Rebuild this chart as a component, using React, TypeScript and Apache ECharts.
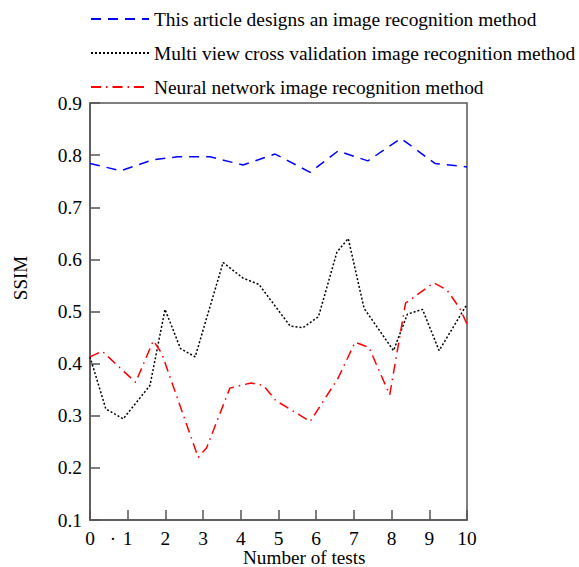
import React, { useEffect, useRef } from "react";
import * as echarts from "echarts";

const seriesNames = [
  "This article designs an image recognition method",
  "Multi view cross validation image recognition method",
  "Neural network image recognition method",
];

const xTicks = [0, 1, 2, 3, 4, 5, 6, 7, 8, 9, 10];
const yTicks = [0.1, 0.2, 0.3, 0.4, 0.5, 0.6, 0.7, 0.8, 0.9];

const blueX = [0, 0.82, 1.67, 2.33, 3.18, 4.06, 4.91, 5.84, 6.58, 7.37, 8.25, 9.15, 9.84, 10];
const blueY = [0.784, 0.77, 0.791, 0.797, 0.797, 0.781, 0.802, 0.767, 0.808, 0.789, 0.832, 0.784, 0.779, 0.777];

const blackX = [0, 0.42, 0.88, 1.59, 1.99, 2.4, 2.79, 3.53, 4.06, 4.48, 5.31, 5.65, 6.06, 6.55, 6.85, 7.27, 8.05, 8.42, 8.82, 9.26, 10];
const blackY = [0.413, 0.313, 0.294, 0.358, 0.504, 0.429, 0.413, 0.594, 0.564, 0.552, 0.472, 0.469, 0.49, 0.614, 0.64, 0.506, 0.425, 0.495, 0.504, 0.425, 0.514];

const redX = [0, 0.32, 1.21, 1.68, 1.9, 2.87, 3.09, 3.71, 4.27, 4.6, 4.93, 5.84, 6.58, 7.03, 7.4, 7.95, 8.37, 9.12, 9.47, 9.81, 10];
const redY = [0.413, 0.424, 0.364, 0.444, 0.42, 0.22, 0.238, 0.353, 0.363, 0.358, 0.329, 0.289, 0.372, 0.441, 0.431, 0.34, 0.516, 0.555, 0.541, 0.506, 0.476];

const xTitle = "Number of tests";
const yTitle = "SSIM";

const FONT = "'Liberation Serif', 'Times New Roman', serif";

function pairs(xs: number[], ys: number[]) {
  return xs.map((x, i) => [x, ys[i]]);
}

export default function App() {
  const ref = useRef<HTMLDivElement>(null);
  useEffect(() => {
    if (!ref.current) return;
    const chart = echarts.init(ref.current, undefined, { renderer: "svg" });
    const axisColor = "#555";
    chart.setOption({
      animation: false,
      backgroundColor: "#fff",
      textStyle: { fontFamily: FONT },
      grid: {
        left: 90,
        right: 112,
        top: 103,
        bottom: 47,
        show: true,
        borderColor: axisColor,
        borderWidth: 1.5,
        backgroundColor: "transparent",
      },
      legend: {
        orient: "vertical",
        left: 85,
        top: 4,
        itemWidth: 58,
        itemHeight: 20,
        itemGap: 14,
        itemStyle: { opacity: 0, borderWidth: 0 },
        textStyle: {
          fontFamily: FONT,
          fontSize: 19.4,
          color: "#000",
          lineHeight: 20,
        },
        data: seriesNames,
      },
      xAxis: {
        type: "value",
        min: xTicks[0],
        max: xTicks[xTicks.length - 1],
        interval: 1,
        axisLine: { show: true, lineStyle: { color: axisColor, width: 1.5 } },
        axisTick: { show: true, inside: true, length: 10, lineStyle: { color: axisColor, width: 1.5 } },
        splitLine: { show: false },
        axisLabel: {
          color: "#000",
          fontFamily: FONT,
          fontSize: 19.4,
          lineHeight: 16,
          margin: 10,
          formatter: (v: number) => String(v),
        },
      },
      yAxis: {
        type: "value",
        min: yTicks[0],
        max: yTicks[yTicks.length - 1],
        interval: 0.1,
        axisLine: { show: true, lineStyle: { color: axisColor, width: 1.5 } },
        axisTick: { show: true, inside: true, length: 10, lineStyle: { color: axisColor, width: 1.5 } },
        splitLine: { show: false },
        axisLabel: {
          color: "#000",
          fontFamily: FONT,
          fontSize: 19.4,
          margin: 8,
          formatter: (v: number) => v.toFixed(1),
        },
      },
      graphic: [
        {
          type: "text",
          left: 243,
          top: 548,
          style: { text: xTitle, fontFamily: FONT, fontSize: 19.2, lineHeight: 18, fill: "#000" },
        },
        {
          type: "text",
          x: 20,
          y: 278,
          rotation: Math.PI / 2,
          style: {
            text: yTitle,
            fontFamily: FONT,
            fontSize: 19,
            fill: "#000",
            align: "center",
            verticalAlign: "middle",
          },
        },
        {
          type: "text",
          x: 113,
          y: 538,
          style: {
            text: "·",
            fontFamily: FONT,
            fontSize: 19,
            lineHeight: 14,
            fill: "#000",
            align: "center",
            verticalAlign: "middle",
          },
        },
      ],
      series: [
        {
          name: seriesNames[0],
          type: "line",
          symbol: "none",
          data: pairs(blueX, blueY),
          lineStyle: { color: "#0000ff", width: 1.5, type: [10, 7] },
          itemStyle: { color: "#0000ff" },
        },
        {
          name: seriesNames[1],
          type: "line",
          symbol: "none",
          data: pairs(blackX, blackY),
          lineStyle: { color: "#000", width: 1.5, type: [2, 2] },
          itemStyle: { color: "#000" },
        },
        {
          name: seriesNames[2],
          type: "line",
          symbol: "none",
          data: pairs(redX, redY),
          lineStyle: { color: "#ff0000", width: 1.5, type: [10, 5, 1.5, 5] },
          itemStyle: { color: "#ff0000" },
        },
      ],
    });
    return () => chart.dispose();
  }, []);
  return (
    <div
      ref={ref}
      style={{ position: "fixed", left: 0, top: 0, width: 579, height: 567, background: "#fff" }}
    />
  );
}
